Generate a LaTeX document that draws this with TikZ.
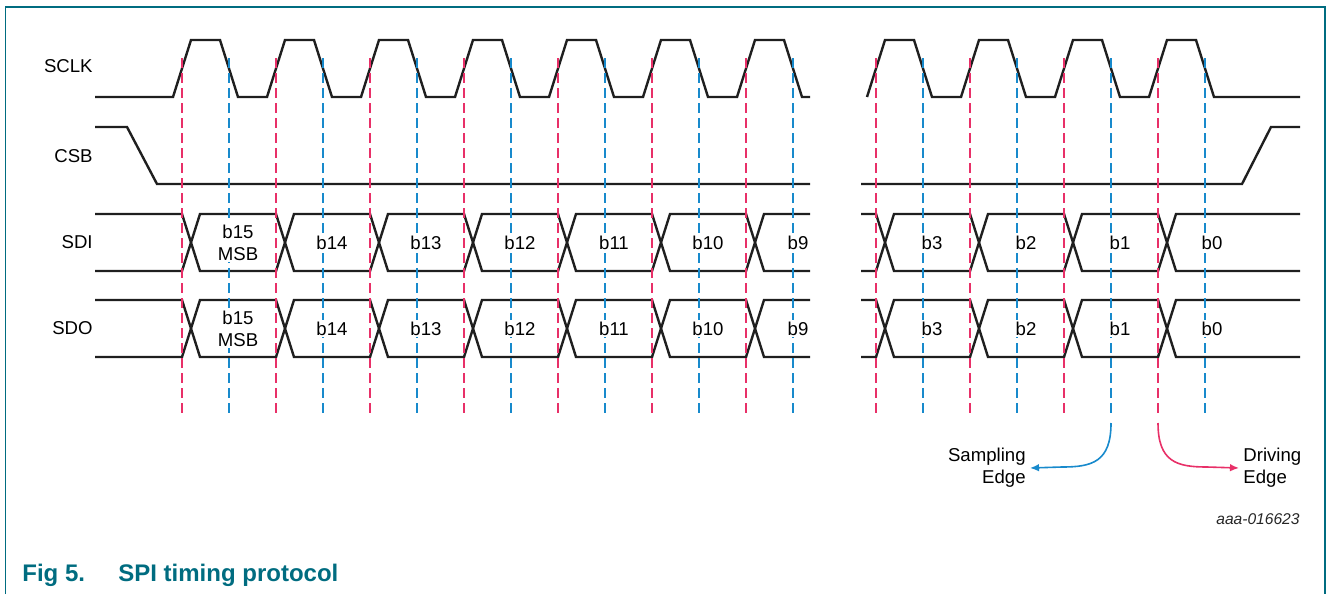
\documentclass[tikz,border=0pt]{standalone}
\usepackage{fontspec}
\setmainfont{Liberation Sans}
\usetikzlibrary{arrows.meta}
\definecolor{nxpteal}{RGB}{0,108,128}
\definecolor{drvred}{RGB}{232,48,104}
\definecolor{smpblue}{RGB}{24,138,204}
\begin{document}
\begin{tikzpicture}[x=0.5pt, y=-0.5pt,
  wave/.style={line width=1.2pt, black!88, line join=miter},
  drvline/.style={drvred, line width=0.8pt, dash pattern=on 5pt off 2.5pt},
  smpline/.style={smpblue, line width=0.8pt, dash pattern=on 5pt off 2.5pt},
  siglabel/.style={anchor=east, inner sep=0pt, font=\fontsize{9.3}{11}\selectfont},
  bit/.style={fill=white, inner sep=1pt, align=center, font=\fontsize{9.3}{11}\selectfont},
  edgetext/.style={inner sep=2pt, font=\fontsize{9.3}{11}\selectfont}]
\useasboundingbox (0,0) rectangle (1327,594);

%frame
\draw[nxpteal, line width=0.6pt] (5.5,594) -- (5.5,7) -- (1325,7) -- (1325,594);

%signal names
\node[siglabel] (sclk) at (93,66) {SCLK};
\node[siglabel] (csb) at (93,156) {CSB};
\node[siglabel] (sdi) at (93,242.5) {SDI};
\node[siglabel] (sdo) at (93,328.5) {SDO};

%SCLK
\draw[wave] (95,97) \foreach \r in {182,276,...,746}
  { -- (\r-9,97) -- (\r+9,40) -- (\r+38,40) -- (\r+56,97) } -- (810,97);
\draw[wave] (867,97) \foreach \r in {876,970,1064,1158}
  { -- (\r-9,97) -- (\r+9,40) -- (\r+38,40) -- (\r+56,97) } -- (1300,97);

%CSB
\draw[wave] (95,127) -- (127,127) -- (157,184) -- (810,184);
\draw[wave] (861,184) -- (1242,184) -- (1271,127) -- (1300,127);

%SDI / SDO lanes, #1 top #2 bottom
\def\Lane#1#2{
\draw[wave] (95,#1) \foreach \r in {182,370,558}
  { -- (\r,#1) -- (\r+18,#2) -- (\r+94,#2) -- (\r+112,#1) }
  -- (746,#1) -- (764,#2) -- (810,#2);
\draw[wave] (861,#1) \foreach \r in {876,1064}
  { -- (\r,#1) -- (\r+18,#2) -- (\r+94,#2) -- (\r+112,#1) } -- (1300,#1);
}
\Lane{214}{271}
\Lane{271}{214}
\Lane{300}{357}
\Lane{357}{300}

%driving and sampling edges
\foreach \r in {182,276,...,746}
{ \draw[drvline] (\r,58) -- (\r,415);
  \draw[smpline] (\r+47,58) -- (\r+47,415); }
\foreach \r in {876,970,1064,1158}
{ \draw[drvline] (\r,58) -- (\r,415);
  \draw[smpline] (\r+47,58) -- (\r+47,415); }

%bits
\node[bit] (sdi15) at (238,242.5) {b15\\MSB};
\node[bit] (sdo15) at (238,328.5) {b15\\MSB};
\foreach \n/\x in {14/332,13/426,12/520,11/614,10/708,9/798,3/932,2/1026,1/1120,0/1212}
{ \node[bit] (sdi\n) at (\x,242.5) {b\n};
  \node[bit] (sdo\n) at (\x,328.5) {b\n}; }

%legend
\node[edgetext, anchor=east, align=right] (sampling) at (1030,468) {Sampling\\Edge};
\node[edgetext, anchor=west, align=left] (driving) at (1239,468) {Driving\\Edge};
\coordinate (smpstart) at (1111,423);
\coordinate (drvstart) at (1158,423);
\draw[smpblue, line width=0.8pt, -{Latex[length=4.5pt,width=3.8pt]}]
  (smpstart) .. controls (1111,462) and (1092,467) .. (1062,467) -- (sampling.east);
\draw[drvred, line width=0.8pt, -{Latex[length=4.5pt,width=3.8pt]}]
  (drvstart) .. controls (1158,462) and (1177,467) .. (1207,467) -- (driving.west);

\node[anchor=east, inner sep=0pt, font=\fontsize{7.8}{9}\selectfont\itshape, black!85] (figid) at (1300,519) {aaa-016623};

%caption
\node[anchor=base west, inner sep=0pt, nxpteal, font=\fontsize{12}{14}\selectfont\bfseries] (fignum) at (22,581) {Fig 5.};
\node[anchor=base west, inner sep=0pt, nxpteal, font=\fontsize{12}{14}\selectfont\bfseries] (figtitle) at (118,581) {SPI timing protocol};
\end{tikzpicture}
\end{document}
